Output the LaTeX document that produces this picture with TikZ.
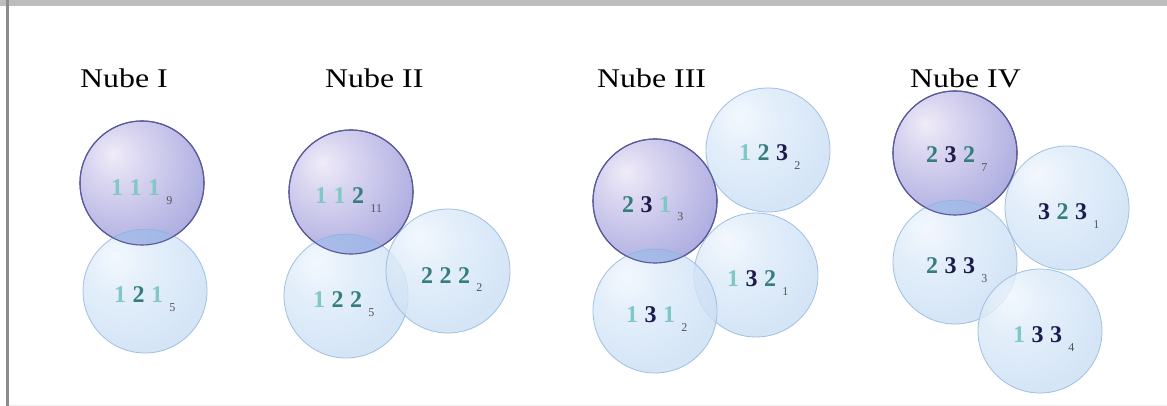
\documentclass[tikz,border=0pt]{standalone}
\usepackage{fontspec}
\setmainfont{Liberation Serif}
\newfontfamily\titlefont[FakeStretch=1.18]{Liberation Serif}
\definecolor{pcA}{HTML}{F0ECF8}
\definecolor{pcB}{HTML}{D8D4F0}
\definecolor{pcC}{HTML}{ACACE0}
\definecolor{pcD}{HTML}{8484CC}
\definecolor{bcA}{HTML}{F0F6FD}
\definecolor{bcB}{HTML}{DCEAF9}
\definecolor{bcC}{HTML}{C6DCF3}
\definecolor{bcD}{HTML}{AECAEB}
\definecolor{pline}{HTML}{5A5A9C}
\definecolor{bline}{HTML}{9FBFE2}
\definecolor{ovl}{HTML}{7896DC}
\definecolor{digA}{HTML}{80C8C6}
\definecolor{digB}{HTML}{347E7E}
\definecolor{digC}{HTML}{1C1C4C}
\definecolor{subc}{HTML}{555555}
\definecolor{frameg}{HTML}{BDBDBD}
\definecolor{framel}{HTML}{8C8C8C}
\pgfdeclareradialshading{pball}{\pgfpoint{-12bp}{12bp}}{color(0bp)=(pcA); color(12bp)=(pcB); color(36bp)=(pcC); color(62bp)=(pcD); color(90bp)=(pcD)}
\pgfdeclareradialshading{bball}{\pgfpoint{-12bp}{14bp}}{color(0bp)=(bcA); color(14bp)=(bcB); color(38bp)=(bcC); color(62bp)=(bcD); color(90bp)=(bcD)}
\newcommand\Da{\makebox[18.5pt]{\color{digA}1}}
\newcommand\Db{\makebox[18.5pt]{\color{digB}2}}
\newcommand\Dc{\makebox[18.5pt]{\color{digC}3}}
\newcommand\subn[1]{\hspace{3pt}\raisebox{-9pt}{\mdseries\fontsize{12}{12}\selectfont\color{subc}#1}}
\tikzset{
  cloudP/.style={circle, minimum size=124pt, inner sep=0pt, outer sep=0pt, shading=pball, draw=pline, line width=1.1pt},
  cloudB/.style={circle, minimum size=124pt, inner sep=0pt, outer sep=0pt, shading=bball, fill opacity=0.8, draw=bline, draw opacity=1, line width=0.8pt},
  ovfill/.style={fill=ovl, fill opacity=0.5},
  pring/.style={draw=pline, line width=1.1pt},
  title/.style={anchor=base west, inner sep=0pt, font=\titlefont\fontsize{27}{27}\selectfont},
  lab/.style={anchor=base, inner sep=0pt, font=\bfseries\fontsize{24}{24}\selectfont},
}
\begin{document}
\begin{tikzpicture}[x=1pt,y=-1pt]
\useasboundingbox (0,0) rectangle (1167,406);
% frame
\fill[frameg] (0,0) rectangle (1167,6);
\fill[framel] (6,0) rectangle (9,406);
\fill[black!8] (9,404.5) rectangle (1167,406);
% titles
\node[title] (t1) at (80,88) {Nube I};
\node[title] (t2) at (325,88) {Nube II};
\node[title] (t3) at (597,88) {Nube III};
\node[title] (t4) at (910,88) {Nube IV};
% ---- Nube I
\node[cloudP] (p1) at (142,183) {};
\node[cloudB] (a1) at (145,291) {};
\begin{scope}\clip (p1.center) circle (62pt); \fill[ovfill] (a1.center) circle (62pt);\end{scope}
\draw[pring] (p1.center) circle (62pt);
% ---- Nube II
\node[cloudP] (p2) at (351,192) {};
\node[cloudB] (a2) at (346,296) {};
\node[cloudB] (b2) at (448,271) {};
\begin{scope}\clip (p2.center) circle (62pt); \fill[ovfill] (a2.center) circle (62pt);\end{scope}
\draw[pring] (p2.center) circle (62pt);
% ---- Nube III
\node[cloudP] (p3) at (655,201) {};
\node[cloudB] (a3) at (768,150) {};
\node[cloudB] (b3) at (756,275) {};
\node[cloudB] (c3) at (655,311) {};
\begin{scope}\clip (p3.center) circle (62pt); \fill[ovfill] (c3.center) circle (62pt);\end{scope}
\draw[pring] (p3.center) circle (62pt);
% ---- Nube IV
\node[cloudP] (p4) at (955,153) {};
\node[cloudB] (a4) at (1067,208) {};
\node[cloudB] (b4) at (955,262) {};
\node[cloudB] (c4) at (1040,331) {};
\begin{scope}\clip (p4.center) circle (62pt); \fill[ovfill] (b4.center) circle (62pt);\end{scope}
\draw[pring] (p4.center) circle (62pt);
% labels
\node[lab] (lp1) at (140,196) {\Da\Da\Da\subn{9}};
\node[lab] (la1) at (143,302) {\Da\Db\Da\subn{5}};
\node[lab] (lp2) at (347,204) {\Da\Da\Db\subn{11}};
\node[lab] (la2) at (342,307) {\Da\Db\Db\subn{5}};
\node[lab] (lb2) at (450,283) {\Db\Db\Db\subn{2}};
\node[lab] (lp3) at (651,212) {\Db\Dc\Da\subn{3}};
\node[lab] (la3) at (768,161) {\Da\Db\Dc\subn{2}};
\node[lab] (lb3) at (756,286) {\Da\Dc\Db\subn{1}};
\node[lab] (lc3) at (655,322) {\Da\Dc\Da\subn{2}};
\node[lab] (lp4) at (955,163) {\Db\Dc\Db\subn{7}};
\node[lab] (la4) at (1067,220) {\Dc\Db\Dc\subn{1}};
\node[lab] (lb4) at (955,273) {\Db\Dc\Dc\subn{3}};
\node[lab] (lc4) at (1042,342) {\Da\Dc\Dc\subn{4}};
\end{tikzpicture}
\end{document}
